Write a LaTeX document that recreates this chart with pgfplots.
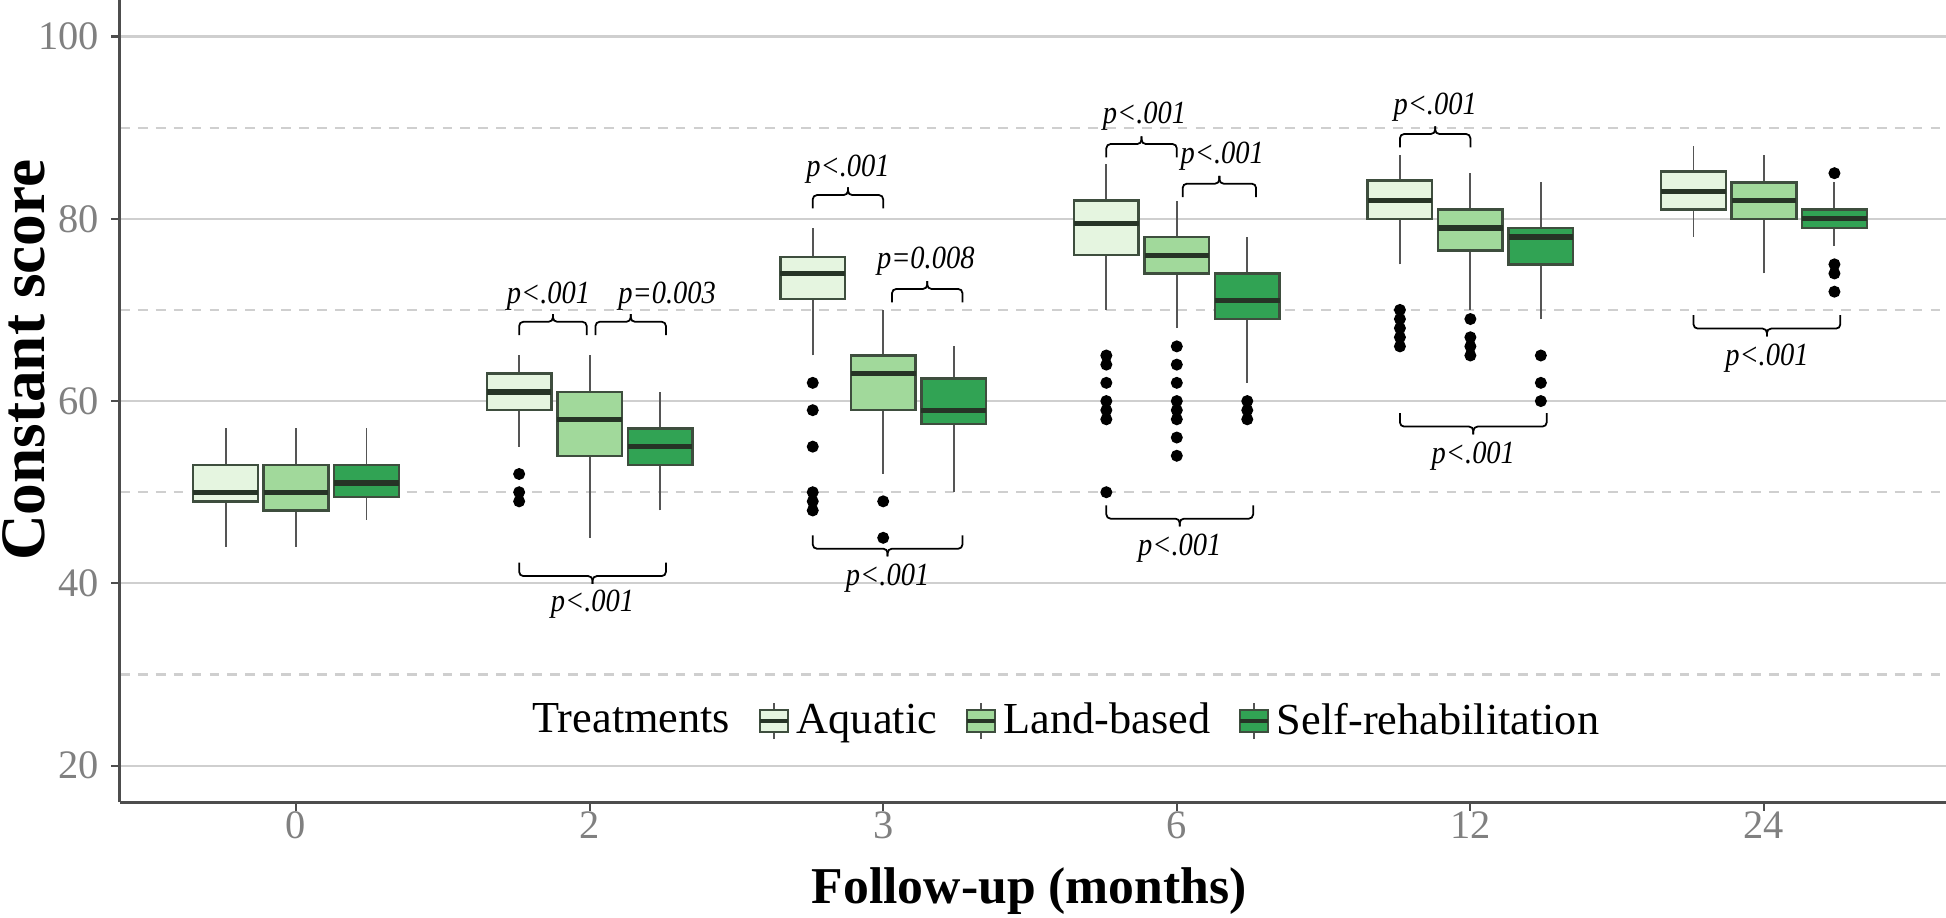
\documentclass[border=0pt]{standalone}
\usepackage{fontspec}
\setmainfont{Liberation Serif}
\newfontfamily\pfont{Liberation Serif}[FakeStretch=0.88]
\usepackage{pgfplots}
\pgfplotsset{compat=1.18}

\definecolor{aq}{HTML}{E5F5E0}
\definecolor{lb}{HTML}{A1D99B}
\definecolor{sr}{HTML}{31A354}
\definecolor{boxln}{HTML}{3E4E3E}
\definecolor{medln}{HTML}{263426}
\definecolor{whisk}{HTML}{555555}
\definecolor{gridc}{HTML}{CFCFCF}
\definecolor{ticktxt}{HTML}{808080}
\definecolor{axln}{HTML}{4D4D4D}

\pgfplotsset{
  boxleg/.style={legend image code/.code={
    \draw[whisk, line width=0.5pt] (0.14cm,-0.18cm) -- (0.14cm,0.18cm);
    \draw[fill=#1, draw=boxln, line width=0.6pt] (0cm,-0.11cm) rectangle (0.28cm,0.11cm);
    \draw[medln, line width=1pt] (0cm,0cm) -- (0.28cm,0cm);}},
}

% one box: position, left, right, fill, lower whisker, lower quartile, median, upper quartile, upper whisker
\newcommand{\bx}[9]{%
  \addplot[forget plot, whisk, line width=0.55pt] coordinates {(#1,#5) (#1,#6)};
  \addplot[forget plot, whisk, line width=0.55pt] coordinates {(#1,#8) (#1,#9)};
  \addplot[forget plot, fill=#4, draw=boxln, line width=0.7pt] coordinates {(#2,#6) (#3,#6) (#3,#8) (#2,#8)} -- cycle;
  \addplot[forget plot, medln, line width=1.5pt] coordinates {(#2,#7) (#3,#7)};}
\newcommand{\outl}[1]{%
  \addplot[forget plot, only marks, mark=*, mark size=1.5pt, mark options={fill=black, draw=black}] coordinates {#1};}

% bracket over two boxes: x1, xmid, x2, y, label x, label y, label
\newcommand{\topbr}[7]{%
  \draw[black, line width=0.5pt, rounded corners=1.2pt]
    ([yshift=-3.8pt]axis cs:#1,#4) -- (axis cs:#1,#4) -- (axis cs:#2,#4) -- ([yshift=2.2pt]axis cs:#2,#4);
  \draw[black, line width=0.5pt, rounded corners=1.2pt]
    ([yshift=2.2pt]axis cs:#2,#4) -- (axis cs:#2,#4) -- (axis cs:#3,#4) -- ([yshift=-3.8pt]axis cs:#3,#4);
  \node[font=\pfont\itshape\fontsize{9.2}{10}\selectfont, inner sep=0pt] at (axis cs:#5,#6) {#7};}
\newcommand{\botbr}[7]{%
  \draw[black, line width=0.5pt, rounded corners=1.2pt]
    ([yshift=3.8pt]axis cs:#1,#4) -- (axis cs:#1,#4) -- (axis cs:#2,#4) -- ([yshift=-2.2pt]axis cs:#2,#4);
  \draw[black, line width=0.5pt, rounded corners=1.2pt]
    ([yshift=-2.2pt]axis cs:#2,#4) -- (axis cs:#2,#4) -- (axis cs:#3,#4) -- ([yshift=3.8pt]axis cs:#3,#4);
  \node[font=\pfont\itshape\fontsize{9.2}{10}\selectfont, inner sep=0pt] at (axis cs:#5,#6) {#7};}

\begin{document}
\begin{tikzpicture}
\begin{axis}[
  scale only axis, width=519.5pt, height=228.2pt,
  xmin=-0.6, xmax=5.62, ymin=16, ymax=104,
  axis x line*=bottom, axis y line*=left,
  axis line style={axln, line width=0.8pt},
  xtick={0,1,2,3,4,5}, xticklabels={0,2,3,6,12,24},
  ytick={20,40,60,80,100}, minor ytick={30,50,70,90},
  tick align=outside, major tick length=2.5pt, minor tick length=0pt,
  tick style={axln, line width=0.6pt},
  ymajorgrids, yminorgrids,
  major grid style={gridc, line width=0.6pt},
  minor grid style={gridc, line width=0.6pt, dash pattern=on 2.8pt off 2.3pt},
  /pgf/number format/assume math mode=true,
  ticklabel style={text=ticktxt, font=\fontsize{11.5}{13}\selectfont},
  xticklabel style={yshift=3.2pt},
  xlabel={Follow-up (months)},
  xlabel style={font=\bfseries\fontsize{14.7}{17}\selectfont, at={(axis description cs:0.498,-0.111)}, anchor=center},
  ylabel={Constant score},
  ylabel style={font=\bfseries\fontsize{18}{20}\selectfont, at={(axis description cs:-0.0525,0.551)}, anchor=center},
  legend style={at={(0.518,0.101)}, anchor=center, draw=none, fill=none,
    legend columns=4, font=\fontsize{12.6}{14}\selectfont,
    /tikz/every even column/.append style={column sep=6pt}},
  legend cell align=left,
]
\coordinate (bl) at (rel axis cs:0,0);
\coordinate (tr) at (rel axis cs:1,1);

% month 0
\bx{-0.24}{-0.35}{-0.13}{aq}{44}{49}{50}{53}{57}
\bx{0}{-0.11}{0.11}{lb}{44}{48}{50}{53}{57}
\bx{0.24}{0.13}{0.35}{sr}{47}{49.5}{51}{53}{57}
% month 2
\bx{0.76}{0.65}{0.87}{aq}{55}{59}{61}{63}{65}
\outl{(0.76,52) (0.76,50) (0.76,49)}
\bx{1}{0.89}{1.11}{lb}{45}{54}{58}{61}{65}
\bx{1.24}{1.13}{1.35}{sr}{48}{53}{55}{57}{61}
% month 3
\bx{1.76}{1.65}{1.87}{aq}{65}{71.2}{74}{75.8}{79}
\outl{(1.76,62) (1.76,59) (1.76,55) (1.76,50) (1.76,49) (1.76,48)}
\bx{2}{1.89}{2.11}{lb}{52}{59}{63}{65}{70}
\outl{(2,49) (2,45)}
\bx{2.24}{2.13}{2.35}{sr}{50}{57.5}{59}{62.5}{66}
% month 6
\bx{2.76}{2.65}{2.87}{aq}{70}{76}{79.5}{82}{86}
\outl{(2.76,65) (2.76,64) (2.76,62) (2.76,60) (2.76,59) (2.76,58) (2.76,50)}
\bx{3}{2.89}{3.11}{lb}{68}{74}{76}{78}{82}
\outl{(3,66) (3,64) (3,62) (3,60) (3,59) (3,58) (3,56) (3,54)}
\bx{3.24}{3.13}{3.35}{sr}{62}{69}{71}{74}{78}
\outl{(3.24,60) (3.24,59) (3.24,58)}
% month 12
\bx{3.76}{3.65}{3.87}{aq}{75}{80}{82}{84.2}{87}
\outl{(3.76,70) (3.76,69) (3.76,68) (3.76,67) (3.76,66)}
\bx{4}{3.89}{4.11}{lb}{70}{76.5}{79}{81}{85}
\outl{(4,69) (4,67) (4,66) (4,65)}
\bx{4.24}{4.13}{4.35}{sr}{69}{75}{78}{79}{84}
\outl{(4.24,65) (4.24,62) (4.24,60)}
% month 24
\bx{4.76}{4.65}{4.87}{aq}{78}{81}{83}{85.2}{88}
\bx{5}{4.89}{5.11}{lb}{74}{80}{82}{84}{87}
\bx{5.24}{5.13}{5.35}{sr}{77}{79}{80}{81}{84}
\outl{(5.24,85) (5.24,75) (5.24,74) (5.24,72)}

% significance brackets
\topbr{0.76}{0.875}{0.99}{68.7}{0.86}{71.5}{p<.001}
\topbr{1.02}{1.14}{1.26}{68.7}{1.264}{71.5}{p=0.003}
\botbr{0.76}{1.01}{1.26}{40.8}{1.01}{37.7}{p<.001}
\topbr{1.76}{1.88}{2.0}{82.6}{1.88}{85.4}{p<.001}
\topbr{2.03}{2.15}{2.27}{72.3}{2.145}{75.3}{p=0.008}
\botbr{1.76}{2.015}{2.27}{43.8}{2.015}{40.6}{p<.001}
\topbr{2.76}{2.88}{3.0}{88.2}{2.89}{91.2}{p<.001}
\topbr{3.02}{3.145}{3.27}{83.85}{3.155}{86.9}{p<.001}
\botbr{2.76}{3.01}{3.26}{47.1}{3.01}{43.9}{p<.001}
\topbr{3.76}{3.88}{4.0}{89.3}{3.88}{92.2}{p<.001}
\botbr{3.76}{4.01}{4.26}{57.2}{4.01}{54.0}{p<.001}
\botbr{4.76}{5.01}{5.26}{67.95}{5.01}{64.7}{p<.001}

\addlegendimage{empty legend}
\addlegendentry{Treatments}
\addlegendimage{boxleg=aq}
\addlegendentry{Aquatic}
\addlegendimage{boxleg=lb}
\addlegendentry{Land-based}
\addlegendimage{boxleg=sr}
\addlegendentry{Self-rehabilitation}
\end{axis}
\pgfresetboundingbox
\path[use as bounding box] ([xshift=-34.1pt,yshift=-32.7pt]bl) rectangle (tr);
\end{tikzpicture}
\end{document}
